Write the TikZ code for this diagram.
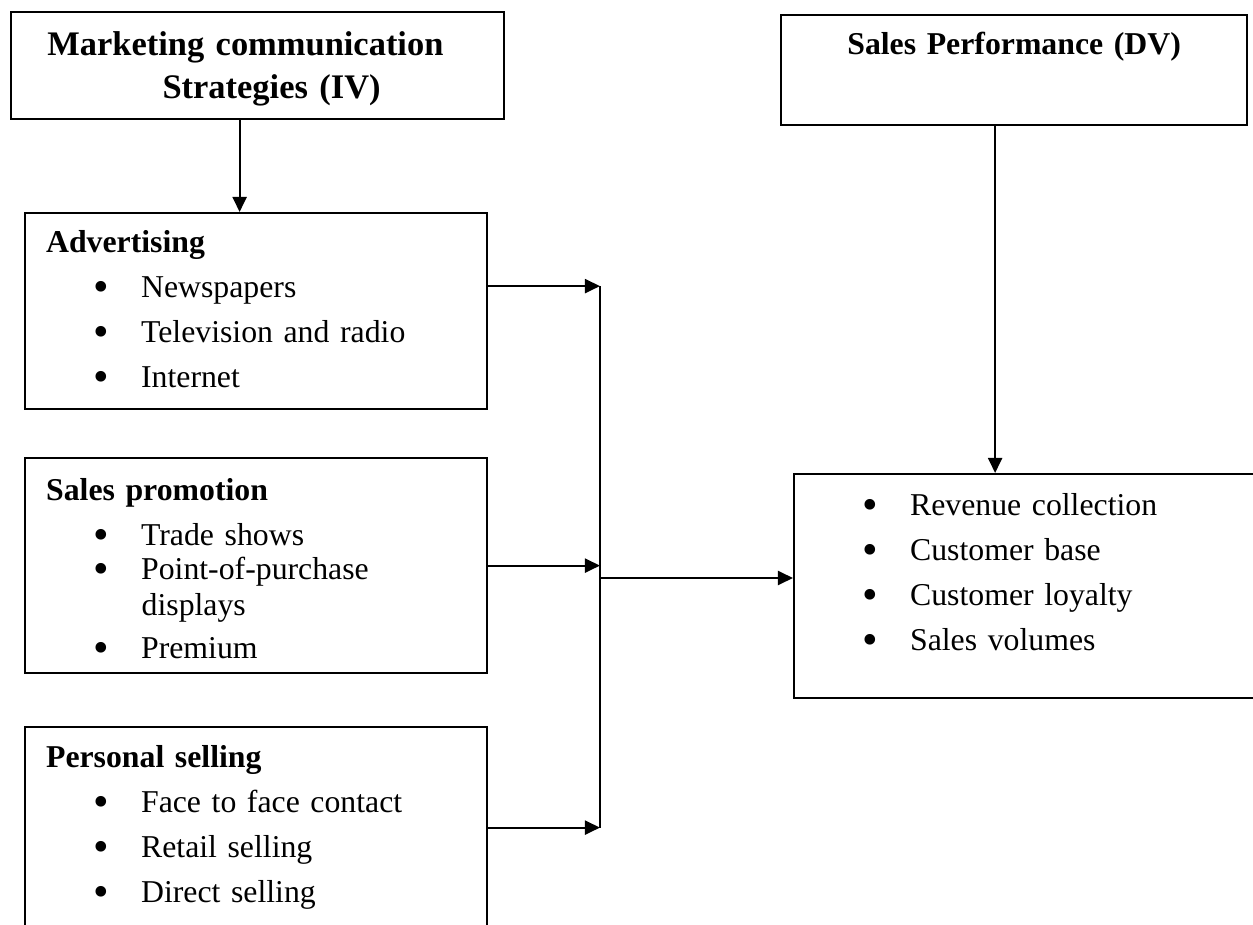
\documentclass[tikz,border=0pt]{standalone}
\usepackage{fontspec}
\setmainfont{Liberation Serif}
\usepackage{graphicx}
\usepackage{tikz}
\usetikzlibrary{positioning, arrows.meta}

\newcommand{\bitem}[1]{\hspace*{21.5pt}\makebox[21.25pt][l]{\raisebox{-0.12em}{\scalebox{1.4}{\textbullet}}}#1}

\begin{document}
\begin{tikzpicture}[
    x=0.45pt, y=-0.45pt, % pixel grid of the figure
    box/.style={
        rectangle,
        draw=black,
        line width=1pt,
        anchor=north west,
        text width=189pt,
        align=left,
        inner xsep=9.45pt,
        inner ysep=0pt,
        font=\fontsize{14.3}{20.25}\selectfont
    },
    headbox/.style={
        box,
        align=center,
        font=\bfseries\fontsize{14.3}{19.35}\selectfont
    },
    arrow/.style={
        -{Triangle[length=6.8pt,width=6.3pt]},
        line width=1pt
    }
]
\useasboundingbox (0,0) rectangle (1253,925);
\clip (0,0) rectangle (1253,925);

% Independent variable
\node[headbox, font=\bfseries\fontsize{15.5}{19.35}\selectfont,
      text width=202.95pt, minimum height=48.15pt] (mcs) at (10,11) {
    \rule{0pt}{14pt}Marketing communication\kern11pt\\\hspace*{12.6pt}Strategies (IV)
};

% Dependent variable
\node[headbox, text width=190.8pt, minimum height=49.5pt] (dv) at (780,14) {
    Sales Performance (DV)\rule[-24.3pt]{0pt}{0pt}
};

% Advertising
\node[box, minimum height=88.2pt] (adv) at (24,212) {
    \textbf{Advertising}\\
    \bitem{Newspapers}\\
    \bitem{Television and radio}\\
    \bitem{Internet}
};

% Sales promotion
\node[box, minimum height=96.75pt] (sp) at (24,457) {
    \rule{0pt}{14pt}\textbf{Sales promotion}\\
    \bitem{Trade shows}\\[-4.95pt]
    \bitem{Point-of-purchase}\\[-4.05pt]
    \hspace*{43pt}displays\\[-0.9pt]
    \bitem{Premium}
};

% Personal selling
\node[box, minimum height=90.45pt] (ps) at (24,726) {
    \textbf{Personal selling}\\
    \bitem{Face to face contact}\\
    \bitem{Retail selling}\\
    \bitem{Direct selling}
};

% Sales performance measures
\node[box, text width=193.5pt, minimum height=100.8pt] (res) at (793,473) {
    \bitem{Revenue collection}\\
    \bitem{Customer base}\\
    \bitem{Customer loyalty}\\
    \bitem{Sales volumes}\rule[-13pt]{0pt}{0pt}
};

% Arrows
\coordinate (merge) at (600,578);
\draw[arrow] ([xshift=-8.1pt]mcs.south) -- ([xshift=-8.1pt]mcs.south |- adv.north);
\draw[arrow] ([yshift=11.25pt]adv.east) -- ([yshift=11.25pt]adv.east -| merge);
\draw[arrow] (sp.east) -- (sp.east -| merge);
\draw[arrow] (ps.east) -- (ps.east -| merge);
\draw[line width=1pt] ([yshift=11.25pt]adv.east -| merge) -- (ps.east -| merge);
\draw[arrow] (merge) -- (merge -| res.west);
\draw[arrow] ([xshift=-8.55pt]dv.south) -- ([xshift=-8.55pt]dv.south |- res.north);

\end{tikzpicture}
\end{document}
